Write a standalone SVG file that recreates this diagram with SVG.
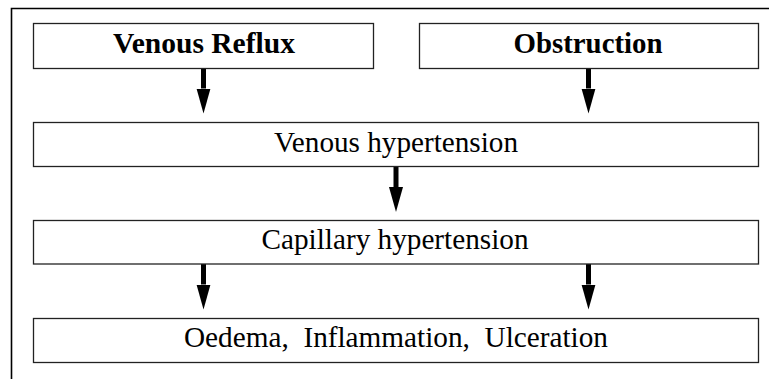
<svg xmlns="http://www.w3.org/2000/svg" width="769" height="379" viewBox="0 0 769 379">
<style>
.box{fill:#fff;stroke:#222;stroke-width:1.3}
.t{font-family:"Liberation Serif",Tinos,"Times New Roman",Times,serif;font-size:29px;fill:#000;text-anchor:middle;white-space:pre}
.b{font-weight:bold}
.c{stroke:#000;stroke-width:5;fill:none;marker-end:url(#ah)}
</style>
<defs>
<marker id="ah" markerUnits="userSpaceOnUse" markerWidth="26" markerHeight="16" viewBox="0 -8 26 16" refX="0" refY="0" orient="auto">
<path d="M0,-7 L25,0 L0,7 Z" fill="#000"/>
</marker>
</defs>
<rect width="769" height="379" fill="#fff"/>
<path d="M11.5,379 V8.5 H769" fill="none" stroke="#000" stroke-width="1.6"/>
<g id="connectors">
<line class="c" x1="203.5" y1="68" x2="203.5" y2="88.5"/>
<line class="c" x1="588.5" y1="68" x2="588.5" y2="88.5"/>
<line class="c" x1="396" y1="166.5" x2="396" y2="187"/>
<line class="c" x1="203.5" y1="264" x2="203.5" y2="284.5"/>
<line class="c" x1="588.5" y1="264" x2="588.5" y2="284.5"/>
</g>
<g id="reflux">
<rect class="box" x="33.5" y="23.5" width="340" height="45"/>
<text class="t b" x="204" y="53" textLength="182" lengthAdjust="spacingAndGlyphs">Venous Reflux</text>
</g>
<g id="obstruction">
<rect class="box" x="419.5" y="23.5" width="339" height="45"/>
<text class="t b" x="588" y="53" textLength="149" lengthAdjust="spacingAndGlyphs">Obstruction</text>
</g>
<g id="venous">
<rect class="box" x="33.5" y="122.5" width="725" height="44"/>
<text class="t" x="396" y="151.5" textLength="244" lengthAdjust="spacingAndGlyphs">Venous hypertension</text>
</g>
<g id="capillary">
<rect class="box" x="33.5" y="220.5" width="725" height="43.5"/>
<text class="t" x="395" y="248.5" textLength="267" lengthAdjust="spacingAndGlyphs">Capillary hypertension</text>
</g>
<g id="outcome">
<rect class="box" x="33.5" y="318.5" width="725" height="44"/>
<text class="t" x="396" y="347" textLength="424" lengthAdjust="spacingAndGlyphs" xml:space="preserve">Oedema,  Inflammation,  Ulceration</text>
</g>
</svg>
